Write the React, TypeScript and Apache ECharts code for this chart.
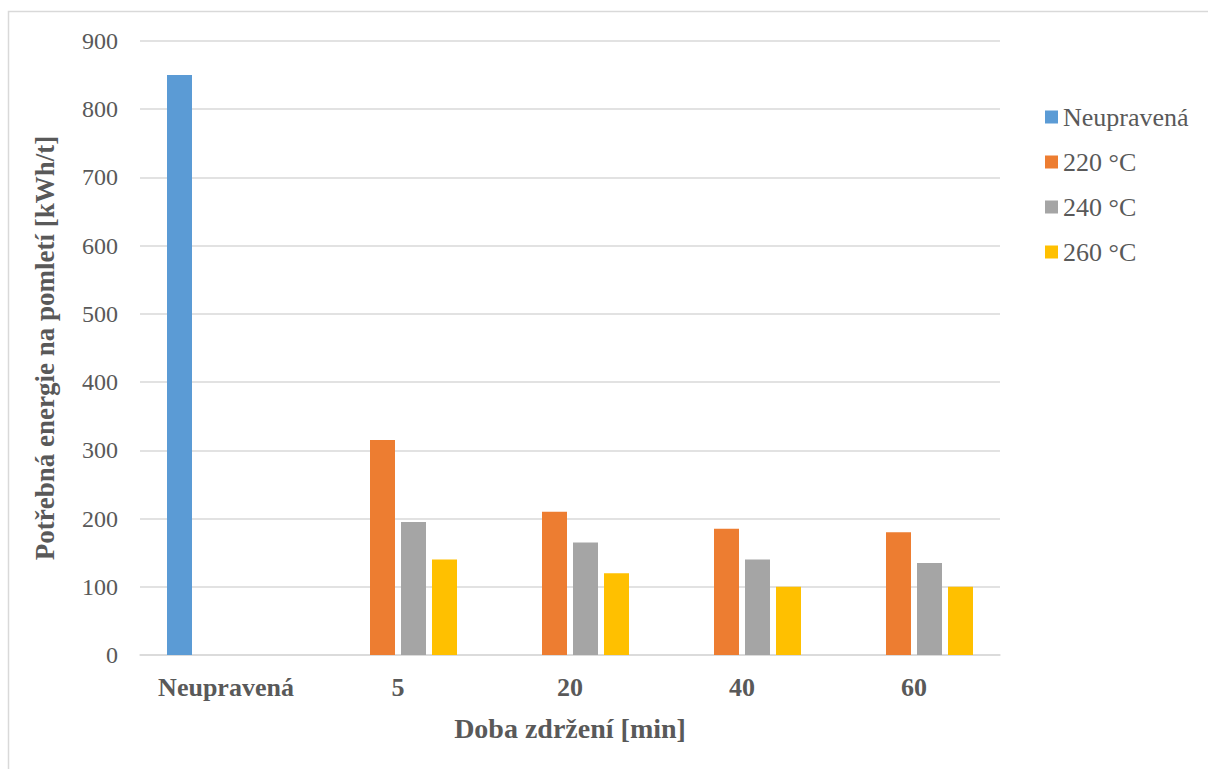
import React, { useEffect, useRef } from "react";
import * as echarts from "echarts";

const categories = ["Neupravená", "5", "20", "40", "60"];
const seriesNames = ["Neupravená", "220 °C", "240 °C", "260 °C"];
const untreated = [850, null, null, null, null];
const t220 = [null, 315, 210, 185, 180];
const t240 = [null, 195, 165, 140, 135];
const t260 = [null, 140, 120, 100, 100];
const colors = ["#5B9BD5", "#ED7D31", "#A5A5A5", "#FFC000"];
const yTicks = { min: 0, max: 900, interval: 100 };

const FONT = "Liberation Serif";

export default function App() {
  const ref = useRef<HTMLDivElement>(null);
  useEffect(() => {
    if (!ref.current) return;
    const chart = echarts.init(ref.current, null, { renderer: "svg" });
    const data = [untreated, t220, t240, t260];
    chart.setOption({
      animation: false,
      textStyle: { fontFamily: FONT },
      graphic: [
        {
          type: "rect",
          shape: { x: 8.5, y: 11.5, width: 1400, height: 900 },
          style: { fill: "none", stroke: "#d9d9d9", lineWidth: 1.5 },
          silent: true,
        },
      ],
      grid: { left: 140, right: 208, top: 41, bottom: 114 },
      legend: {
        orient: "vertical",
        left: 1040,
        top: 99,
        itemWidth: 13,
        itemHeight: 13,
        itemGap: 19,
        icon: "rect",
        data: seriesNames,
        textStyle: { fontFamily: FONT, fontSize: 26, color: "#595959", lineHeight: 26 },
      },
      xAxis: {
        type: "category",
        data: categories,
        name: "Doba zdržení [min]",
        nameLocation: "middle",
        nameGap: 59,
        nameTextStyle: { fontFamily: FONT, fontSize: 28, fontWeight: "bold", color: "#595959", verticalAlign: "top" },
        axisLine: { lineStyle: { color: "#d9d9d9", width: 1.5 } },
        axisTick: { show: false },
        axisLabel: { interval: 0, fontFamily: FONT, fontSize: 26, fontWeight: "bold", color: "#595959", margin: 19 },
      },
      yAxis: {
        type: "value",
        min: yTicks.min,
        max: yTicks.max,
        interval: yTicks.interval,
        name: "Potřebná energie na pomletí [kWh/t]",
        nameLocation: "middle",
        nameGap: 82,
        nameTextStyle: { fontFamily: FONT, fontSize: 27, fontWeight: "bold", color: "#595959" },
        axisLine: { show: false },
        axisTick: { show: false },
        axisLabel: { fontFamily: FONT, fontSize: 24, color: "#595959", margin: 22 },
        splitLine: { lineStyle: { color: "#d9d9d9", width: 1.5 } },
      },
      series: seriesNames.map((name, i) => ({
        name,
        type: "bar",
        data: data[i],
        barWidth: 25,
        barGap: "24%",
        itemStyle: { color: colors[i] },
      })),
    });
    return () => chart.dispose();
  }, []);
  return (
    <div
      ref={ref}
      style={{ position: "fixed", left: 0, top: 0, width: 1208, height: 769, background: "#fff" }}
    />
  );
}
